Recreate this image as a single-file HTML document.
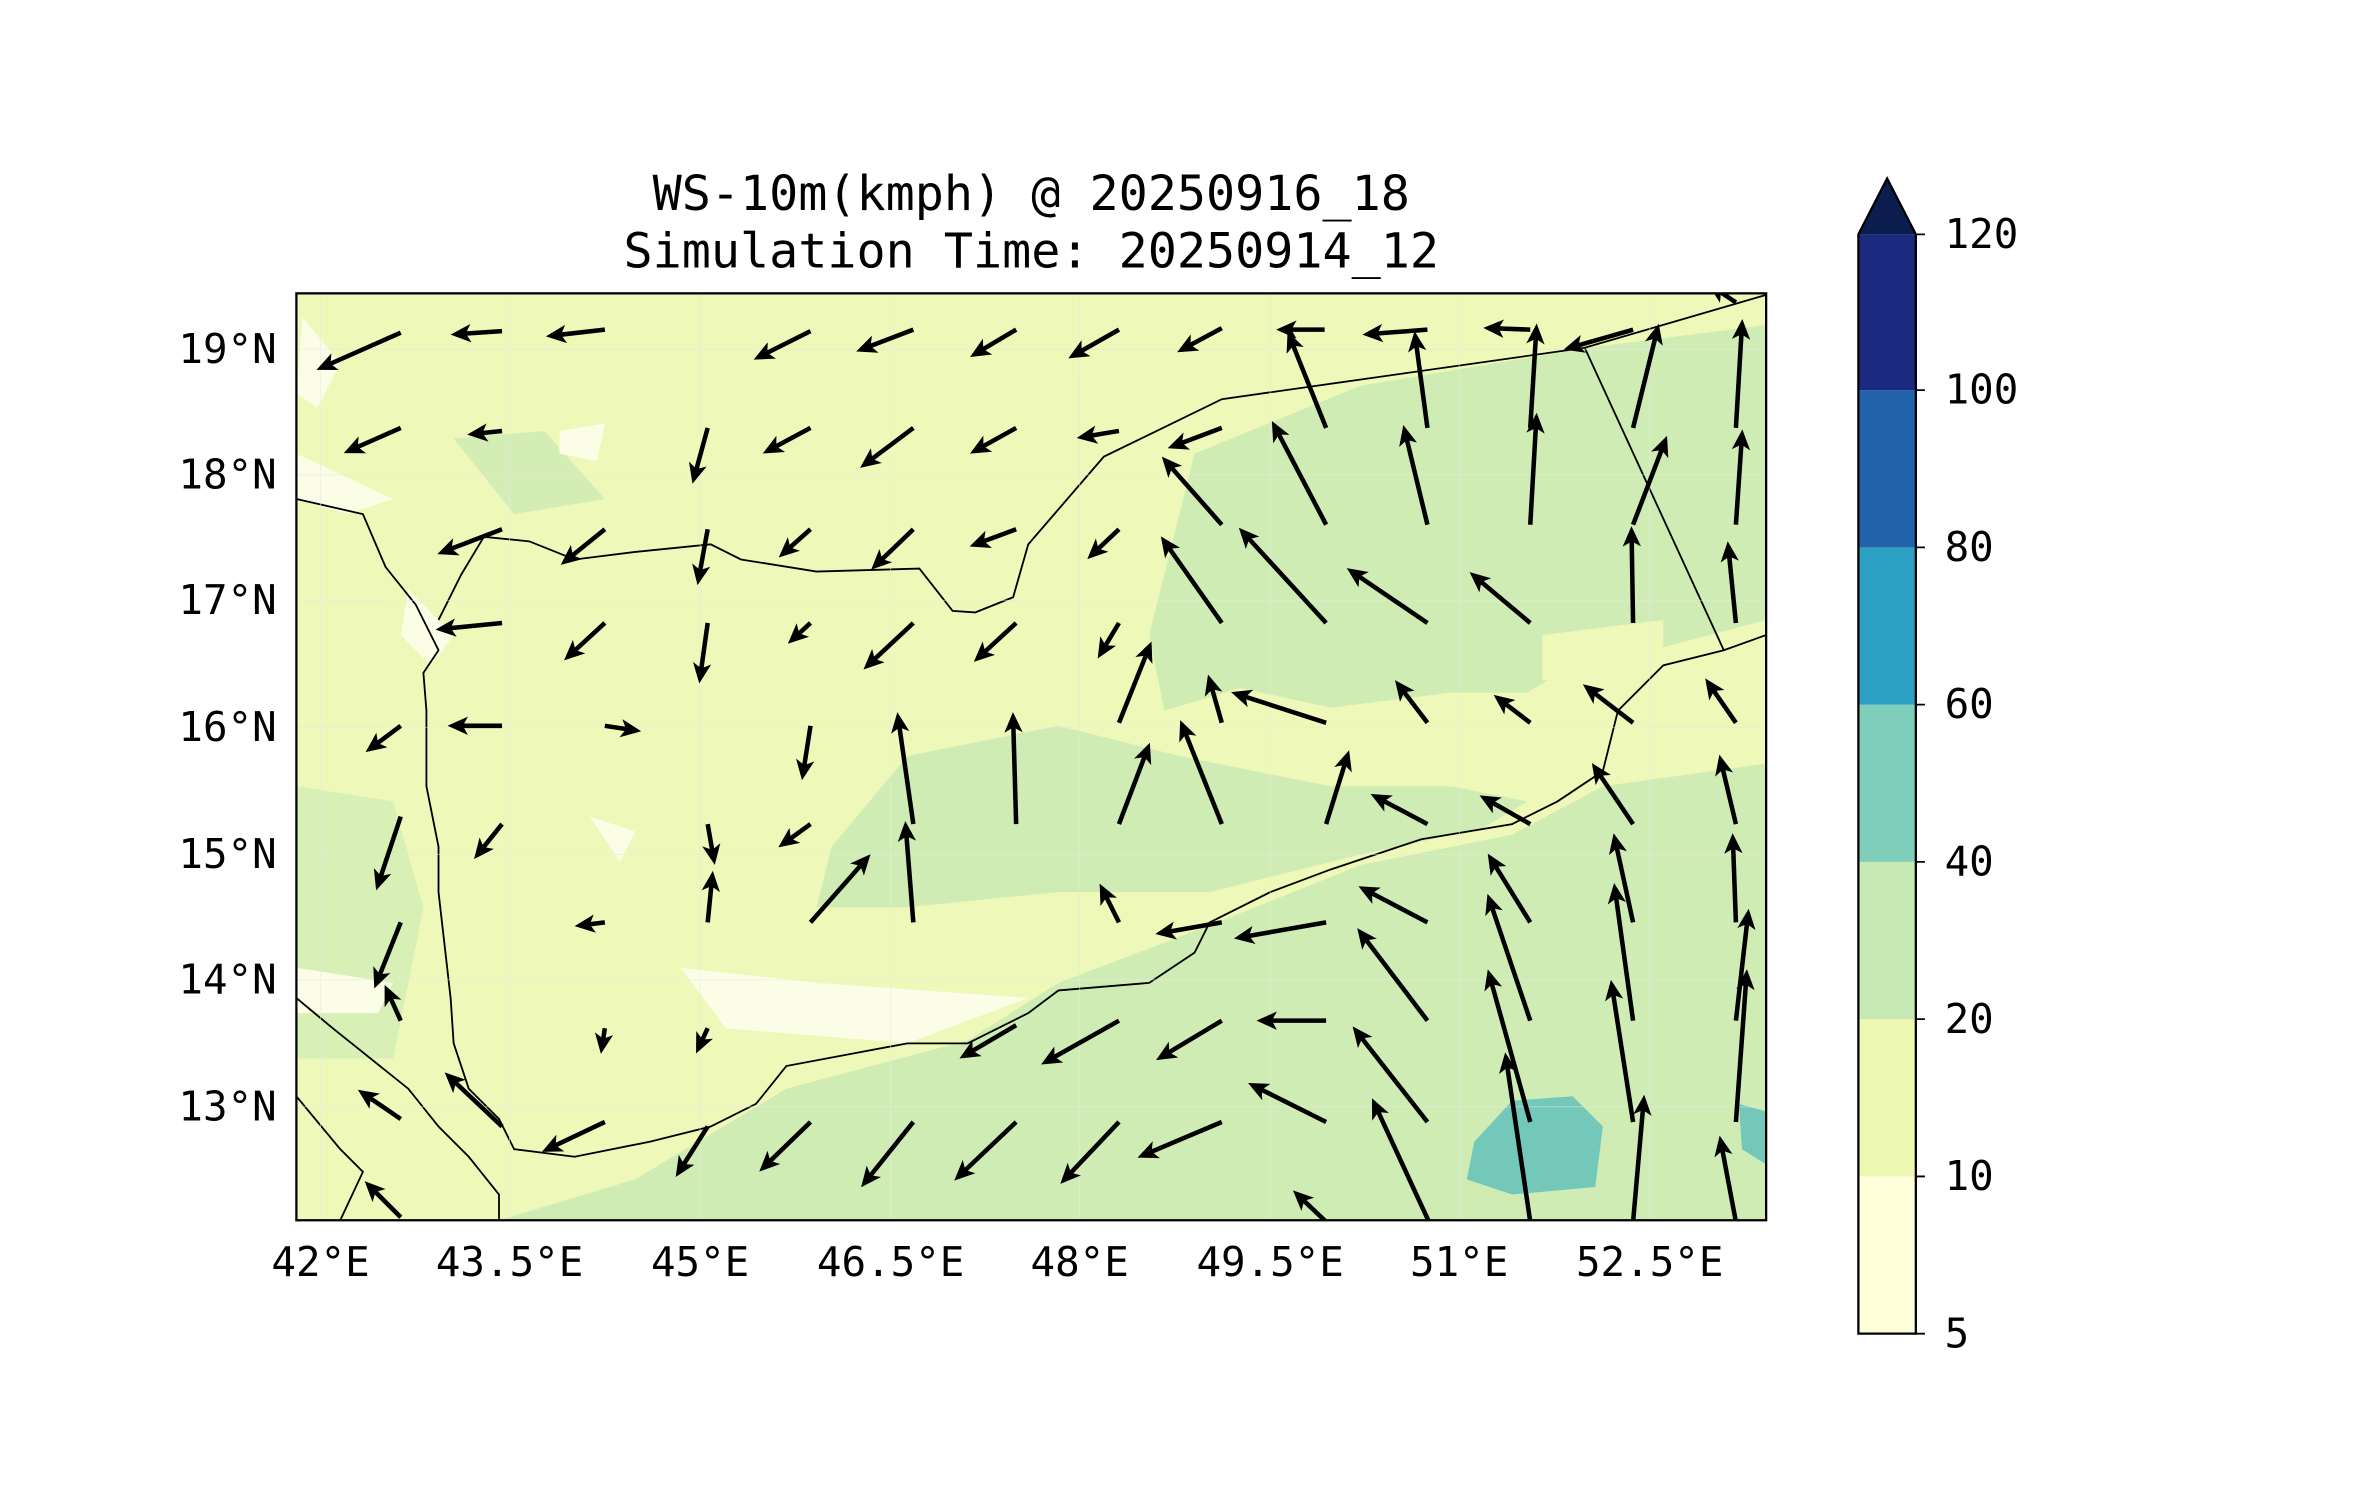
<!DOCTYPE html>
<html><head><meta charset="utf-8"><style>html,body{margin:0;padding:0;background:#fff}svg{display:block}</style></head>
<body>
<svg id="s" width="2371" height="1500" viewBox="0 0 1568 992" xmlns="http://www.w3.org/2000/svg" font-family="'DejaVu Sans Mono','Liberation Mono',monospace">
<defs>
<clipPath id="c"><rect x="196" y="194" width="972" height="613"/></clipPath>
<marker id="h" viewBox="0 0 10 10" refX="7" refY="5" markerWidth="4.5" markerHeight="4.5" orient="auto" markerUnits="strokeWidth"><path d="M0,0.5 L10,5 L0,9.5 L2.5,5z" fill="#000"/></marker>
</defs>
<text x="682" y="139" font-size="32" text-anchor="middle">WS-10m(kmph) @ 20250916_18</text>
<text x="682" y="177" font-size="32" text-anchor="middle">Simulation Time: 20250914_12</text>
<g clip-path="url(#c)">
<rect x="196" y="194" width="972" height="613" fill="#eef8b8"/>
<path d="M760,420 L790,300 L900,255 L1050,230 L1168,215 L1168,410 L1100,428 L1040,440 L1010,458 L960,458 L880,468 L820,455 L770,470 Z" fill="#d0ecb5"/>
<path d="M550,560 L600,500 L700,480 L780,500 L880,520 L960,520 L1010,530 L980,548 L900,565 L800,590 L700,590 L600,600 L540,600 Z" fill="#d0ecb5"/>
<path d="M330,807 L420,780 L520,720 L640,688 L700,650 L800,612 L900,572 L1000,552 L1060,520 L1168,505 L1168,807 Z" fill="#d0ecb5"/>
<path d="M196,520 L260,530 L280,600 L260,700 L196,700 Z" fill="#d8efb6"/>
<path d="M300,290 L360,285 L400,330 L340,340 Z" fill="#d4edb5"/>
<path d="M1020,420 L1100,410 L1100,440 L1020,450 Z" fill="#eef8b8"/>
<path d="M975,755 L1000,728 L1040,725 L1060,745 L1055,785 L1000,790 L970,780 Z" fill="#74c8b9"/>
<path d="M1150,730 L1168,735 L1168,770 L1152,760 Z" fill="#74c8b9"/>
<path d="M200,210 L225,240 L210,270 L196,260 Z M370,285 L400,280 L395,305 L370,300 Z M196,300 L260,330 L230,340 L196,330 Z M270,390 L300,420 L285,440 L265,420 Z M450,640 L540,650 L680,660 L600,690 L480,680 Z M196,640 L260,650 L250,670 L196,670 Z M390,540 L420,550 L410,570 Z" fill="#fbfde6"/>
<g fill="none" stroke="#000" stroke-width="1.2">
<polyline points="1168,195 1048,230 808,264 730,302 680,360 670,395 645,405 630,404 608,376 540,378 490,370 470,360 420,365 380,370 350,358 320,355 305,380 290,410"/>
<polyline points="1048,230 1140,430"/>
<polyline points="1168,420 1140,430 1100,440 1070,470 1060,510 1030,530 1000,545 940,555 880,575 840,590 800,610 790,630 760,650 700,655 680,670 640,690 600,690 520,705 500,730 470,745 430,755 380,765 340,760 330,740 310,720 300,690 298,660 290,590 290,560 282,520 282,470 280,445 290,430 275,400 255,375 240,340 196,330"/>
<polyline points="196,660 220,680 245,700 270,720 290,745 310,765 330,790 330,807"/>
<polyline points="196,725 225,760 240,775 225,807"/>
</g>
<g stroke="#e8e8e8" stroke-width="0.6" opacity="0.6">
<path d="M212,194V807M337,194V807M463,194V807M589,194V807M714,194V807M840,194V807M965,194V807M1091,194V807M196,231H1168M196,314H1168M196,397H1168M196,481H1168M196,565H1168M196,648H1168M196,732H1168"/>
</g>
<g id="arr" stroke="#000" stroke-width="3"></g>
</g>
<rect x="196" y="194" width="972" height="613" fill="none" stroke="#000" stroke-width="1.5"/>
<g font-size="27" text-anchor="middle">
<text x="212" y="844">42°E</text><text x="337" y="844">43.5°E</text><text x="463" y="844">45°E</text><text x="589" y="844">46.5°E</text><text x="714" y="844">48°E</text><text x="840" y="844">49.5°E</text><text x="965" y="844">51°E</text><text x="1091" y="844">52.5°E</text>
</g>
<g font-size="27" text-anchor="end">
<text x="183" y="240">19°N</text><text x="183" y="323">18°N</text><text x="183" y="406">17°N</text><text x="183" y="490">16°N</text><text x="183" y="574">15°N</text><text x="183" y="657">14°N</text><text x="183" y="741">13°N</text>
</g>
<g stroke="none">
<rect x="1229" y="778" width="38" height="104" fill="#ffffd9"/>
<rect x="1229" y="674" width="38" height="104" fill="#edf8b1"/>
<rect x="1229" y="570" width="38" height="104" fill="#c7e9b4"/>
<rect x="1229" y="466" width="38" height="104" fill="#7fcdbb"/>
<rect x="1229" y="362" width="38" height="104" fill="#2ca0c2"/>
<rect x="1229" y="258" width="38" height="104" fill="#2262aa"/>
<rect x="1229" y="155" width="38" height="103" fill="#1b2a7e"/>
<path d="M1229,155 L1248,118 L1267,155Z" fill="#0b1d4e"/>
</g>
<path d="M1229,155 L1248,118 L1267,155 L1267,882 L1229,882 Z" fill="none" stroke="#000" stroke-width="1.5"/>
<g stroke="#000" stroke-width="1.2"><path d="M1267,882h6M1267,778h6M1267,674h6M1267,570h6M1267,466h6M1267,362h6M1267,258h6M1267,155h6"/></g>
<g font-size="27">
<text x="1286" y="891">5</text><text x="1286" y="787">10</text><text x="1286" y="683">20</text><text x="1286" y="579">40</text><text x="1286" y="475">60</text><text x="1286" y="371">80</text><text x="1286" y="267">100</text><text x="1286" y="164">120</text>
</g>
</svg>
<script>
var d="265,220,213,243 332,219,302,221 400,218,365,222 536,219,502,236 604,218,570,231 672,218,645,234 740,218,710,235 808,217,782,231 876,218,848,218 944,218,905,221 1012,218,985,217 1080,218,1038,230 1148,200,1133,190 "+
"265,283,231,298 332,285,313,287 468,283,459,316 536,283,508,298 604,283,572,307 672,283,645,298 740,285,716,289 808,283,776,295 877,283,853,223 944,283,936,223 1012,283,1016,218 1080,283,1096,218 1148,283,1152,215 "+
"332,350,293,365 400,350,374,371 468,350,462,383 536,350,518,366 604,350,579,374 672,350,645,360 740,350,722,367 808,347,771,305 877,347,843,282 944,347,929,285 1012,347,1016,277 1080,347,1101,292 1148,347,1152,288 "+
"332,412,292,416 400,412,376,434 468,412,463,448 536,412,524,423 604,412,574,440 672,412,647,435 740,412,728,432 808,412,770,358 877,412,822,352 944,412,894,378 1012,412,975,381 1080,412,1079,352 1148,412,1143,362 "+
"265,480,245,495 332,480,300,480 400,480,420,483 536,480,531,512 604,545,594,475 672,545,670,475 740,545,759,495 808,545,782,480 740,478,760,428 808,478,800,450 877,478,818,459 944,478,925,453 1012,478,991,462 1080,478,1050,455 1148,478,1130,452 "+
"265,540,250,585 332,545,316,565 468,545,472,568 536,545,518,558 877,545,891,500 944,545,910,527 1012,545,982,528 1080,545,1055,508 1148,545,1138,503 "+
"265,610,249,650 400,610,384,612 468,610,471,580 536,610,573,568 604,610,599,547 740,610,729,588 808,610,768,617 877,610,820,620 944,610,902,588 1012,610,986,568 1080,610,1068,555 1148,610,1146,555 "+
"265,675,256,655 400,680,398,693 468,680,462,693 672,678,638,698 740,675,692,702 808,675,768,699 877,675,835,675 944,675,900,617 1012,675,985,595 1080,675,1068,588 1148,675,1156,605 "+
"265,740,240,723 332,745,297,712 400,742,362,760 468,745,449,775 536,742,505,772 604,742,572,782 672,742,634,778 740,742,704,780 808,742,756,764 877,742,829,718 944,742,897,682 1012,742,985,645 1080,742,1066,652 1148,742,1155,645 "+
"265,805,244,784 945,808,909,730 1012,808,996,700 1080,808,1087,728 1148,808,1138,755 877,808,858,790";
var g=document.getElementById("arr"),ns="http://www.w3.org/2000/svg";
d.split(" ").forEach(function(s){var a=s.split(",");if(a.length<4)return;var l=document.createElementNS(ns,"line");
l.setAttribute("x1",a[0]);l.setAttribute("y1",a[1]);l.setAttribute("x2",a[2]);l.setAttribute("y2",a[3]);l.setAttribute("marker-end","url(#h)");g.appendChild(l);});
</script>
</body></html>
